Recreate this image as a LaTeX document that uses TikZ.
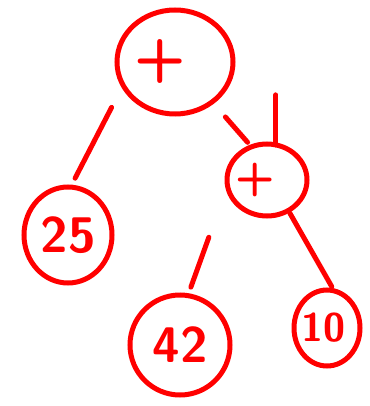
\documentclass[tikz,border=0pt]{standalone}
\usetikzlibrary{shapes.geometric}
\begin{document}
\begin{tikzpicture}[x=1pt,y=-1pt,
		pen/.style={red, line width=5pt, line cap=round},
		circled/.style={pen, draw, ellipse, inner sep=0pt, outer sep=0pt, text=red,
			font=\sffamily\bfseries\fontsize{50}{50}\selectfont}
		]
		\useasboundingbox (0,0) rectangle (369,406);
		\node [circled, minimum width=116pt, minimum height=104pt,
			font=\sffamily\bfseries\fontsize{60}{60}\selectfont] (root) at (175,62) {\hspace*{-30pt}+};
		\node [circled, minimum width=88pt, minimum height=96pt] (lft) at (68,235) {25};
		\node [circled, minimum width=80pt, minimum height=72pt,
			font=\sffamily\bfseries\fontsize{46}{46}\selectfont] (rgt) at (267,180) {\hspace*{-24pt}+};
		\node [circled, minimum width=100pt, minimum height=100pt] (mid) at (180,345) {42};
		\node [circled, minimum width=66pt, minimum height=76pt,
			font=\sffamily\bfseries\fontsize{40}{40}\selectfont] (ten) at (327,328) {\hspace*{-8pt}10};
		\draw [pen, shorten <=25pt, shorten >=10pt] (root.204) -- (lft.87);
		\draw [pen, shorten <=20pt, shorten >=6pt] (root.313) -- (rgt.115);
		\draw [pen] (rgt.76) -- ++(0,-50);
		\draw [pen, shorten <=55pt, shorten >=9pt] (rgt.188) -- (mid.81);
		\draw [pen, shorten <=3pt, shorten >=5pt] (rgt.305) -- (ten.79);
	\end{tikzpicture}
\end{document}
